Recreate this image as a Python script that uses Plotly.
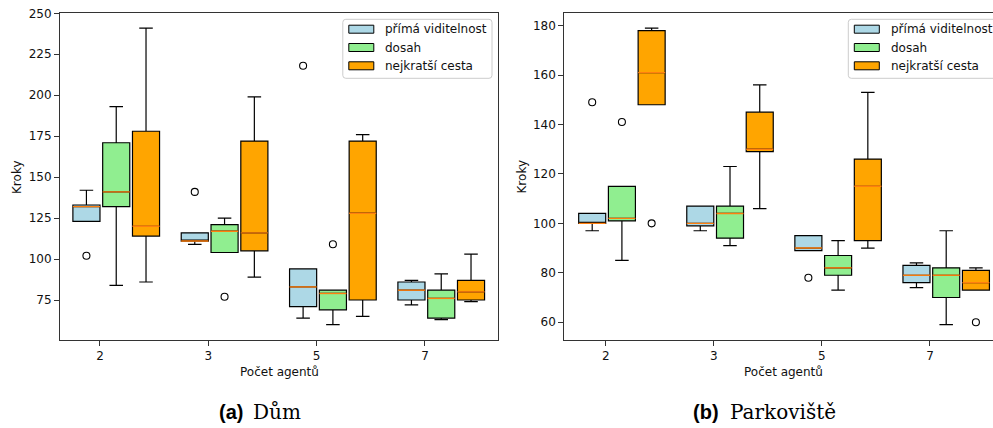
import plotly.graph_objects as go

W, H = 993, 428

# categories and series
groups = ["2", "3", "5", "7"]
series = ["přímá viditelnost", "dosah", "nejkratší cesta"]
fills = ["#add8e6", "#90ee90", "#ffa500"]
offsets = [-0.125, 0.15, 0.425]
box_width = 0.25

# (a) Dům: box statistics per series (rows) and agent count (columns)
dum_q1 = [[123, 111, 71, 75], [132, 104, 69, 64], [114, 105, 75, 75]]
dum_median = [[132, 111, 83, 81], [141, 117, 79, 76], [120, 116, 128, 80]]
dum_q3 = [[133, 116, 94, 86], [171, 121, 81, 81], [178, 172, 172, 87]]
dum_low = [[123, 109, 64, 72], [84, 104, 60, 63], [86, 89, 65, 74]]
dum_high = [[142, 116, 94, 87], [193, 125, 81, 91], [241, 199, 176, 103]]
dum_out_group = [[0, 1, 2], [1, 2], []]
dum_out_value = [[102, 141, 218], [77, 109], []]

# (b) Parkoviště
park_q1 = [[100, 99, 89, 76], [101, 94, 79, 70], [148, 129, 93, 73]]
park_median = [[100, 100, 90, 79], [102, 104, 82, 79], [161, 130, 115, 76]]
park_q3 = [[104, 107, 95, 83], [115, 107, 87, 82], [178, 145, 126, 81]]
park_low = [[97, 97, 89, 74], [85, 91, 73, 59], [148, 106, 90, 73]]
park_high = [[104, 107, 95, 84], [115, 123, 93, 97], [179, 156, 153, 82]]
park_out_group = [[0, 2], [0], [0, 3]]
park_out_value = [[149, 78], [141], [100, 60]]

FONT = "DejaVu Sans"
AXIS_COLOR = "#333333"
TEXT_COLOR = "#111111"


def px(x):
    return x / W


def py(y):
    return 1 - y / H


fig = go.Figure()


def add_panel(xa, ya, q1, med, q3, low, high, out_g, out_v):
    for s in range(len(series)):
        xs = [i + offsets[s] for i in range(len(groups))]
        fig.add_trace(go.Box(
            x=xs, q1=q1[s], median=med[s], q3=q3[s],
            lowerfence=low[s], upperfence=high[s],
            width=box_width, whiskerwidth=0.5, boxpoints=False,
            fillcolor=fills[s], line=dict(color="black", width=1.2),
            name=series[s], showlegend=False, hoverinfo="skip",
            xaxis=xa, yaxis=ya,
        ))
        # median drawn in orange over the box
        mx, my = [], []
        for x, m in zip(xs, med[s]):
            mx += [x - box_width / 2, x + box_width / 2, None]
            my += [m, m, None]
        fig.add_trace(go.Scatter(
            x=mx, y=my, mode="lines", line=dict(color="#ff7f0e", width=1.4),
            showlegend=False, hoverinfo="skip", xaxis=xa, yaxis=ya,
        ))
        if out_g[s]:
            fig.add_trace(go.Scatter(
                x=[g + offsets[s] for g in out_g[s]], y=out_v[s], mode="markers",
                marker=dict(symbol="circle-open", size=7, color="black",
                            line=dict(width=1.1)),
                showlegend=False, hoverinfo="skip", xaxis=xa, yaxis=ya,
            ))


add_panel("x", "y", dum_q1, dum_median, dum_q3, dum_low, dum_high,
          dum_out_group, dum_out_value)
add_panel("x2", "y2", park_q1, park_median, park_q3, park_low, park_high,
          park_out_group, park_out_value)

tickfont = dict(family=FONT, size=12, color=TEXT_COLOR)
common_x = dict(
    tickvals=list(range(len(groups))), ticktext=groups,
    showgrid=False, zeroline=False, showline=True, linecolor=AXIS_COLOR,
    linewidth=1, ticks="outside", ticklen=5, tickwidth=1, tickcolor=AXIS_COLOR,
    tickfont=tickfont, mirror=True,
)
common_y = dict(
    showgrid=False, zeroline=False, showline=True, linecolor=AXIS_COLOR,
    linewidth=1, ticks="outside", ticklen=5, tickwidth=1, tickcolor=AXIS_COLOR,
    tickfont=tickfont,
)

ydom = [py(340), py(13.3)]
fig.update_layout(
    width=W, height=H,
    margin=dict(l=0, r=0, t=0, b=0, autoexpand=False),
    paper_bgcolor="white", plot_bgcolor="white",
    boxmode="overlay", showlegend=False,
    xaxis=dict(domain=[px(60), px(498)], range=[-0.369, 3.674],
               anchor="y", **common_x),
    yaxis=dict(domain=ydom, range=[50.6, 250], dtick=25, tick0=0,
               anchor="x", mirror=True, **common_y),
    xaxis2=dict(domain=[px(564.3), 1.0], range=[-0.383, 3.583],
                anchor="y2", **common_x),
    yaxis2=dict(domain=ydom, range=[52.8, 185], dtick=20, tick0=0,
                anchor="x2", mirror=False, **common_y),
)

annotations = []
shapes = []

# axis titles
for xc, yl_x in [(279, 17), (783.5, 521.5)]:
    annotations.append(dict(
        x=px(xc), y=py(371.5), xref="paper", yref="paper", text="Počet agentů",
        showarrow=False, xanchor="center", yanchor="middle",
        font=dict(family=FONT, size=12, color=TEXT_COLOR),
    ))
    annotations.append(dict(
        x=px(yl_x), y=py(177), xref="paper", yref="paper", text="Kroky",
        showarrow=False, xanchor="center", yanchor="middle", textangle=-90,
        font=dict(family=FONT, size=12, color=TEXT_COLOR),
    ))

# captions
for tag, name, x_tag_end, x_name in [("(a)", "Dům", 245, 251),
                                      ("(b)", "Parkoviště", 721, 728)]:
    annotations.append(dict(
        x=px(x_tag_end), y=py(411.5), xref="paper", yref="paper",
        text="<b>" + tag + "</b>", showarrow=False, xanchor="right",
        yanchor="middle",
        font=dict(family="Liberation Sans", size=20, color="#000000"),
    ))
    annotations.append(dict(
        x=px(x_name), y=py(411.5), xref="paper", yref="paper", text=name,
        showarrow=False, xanchor="left", yanchor="middle",
        font=dict(family="DejaVu Serif", size=20, color="#000000"),
    ))


def rounded_path(x0, y0, x1, y1, r):
    pts = [
        ("M", x0 + r, y0), ("L", x1 - r, y0), ("Q", x1, y0, x1, y0 + r),
        ("L", x1, y1 - r), ("Q", x1, y1, x1 - r, y1), ("L", x0 + r, y1),
        ("Q", x0, y1, x0, y1 - r), ("L", x0, y0 + r), ("Q", x0, y0, x0 + r, y0),
    ]
    out = []
    for p in pts:
        cmd, coords = p[0], p[1:]
        xy = []
        for k in range(0, len(coords), 2):
            xy.append(f"{px(coords[k]):.5f},{py(coords[k + 1]):.5f}")
        out.append(cmd + " ".join(xy))
    return " ".join(out) + " Z"


# legends, one per panel
for fx in [342.8, 848.3]:
    shapes.append(dict(
        type="path", xref="paper", yref="paper",
        path=rounded_path(fx, 19.3, fx + 149.2, 78.3, 3),
        fillcolor="rgba(255,255,255,0.8)", line=dict(color="#cccccc", width=1),
        layer="above",
    ))
    for s, yc in enumerate([29.2, 47.5, 65.8]):
        shapes.append(dict(
            type="rect", xref="paper", yref="paper",
            x0=px(fx + 6), x1=px(fx + 31), y0=py(yc - 4), y1=py(yc + 4),
            fillcolor=fills[s], line=dict(color="black", width=1), layer="above",
        ))
        annotations.append(dict(
            x=px(fx + 40.5), y=py(yc), xref="paper", yref="paper",
            text=series[s], showarrow=False, xanchor="left", yanchor="middle",
            font=dict(family=FONT, size=12, color=TEXT_COLOR),
        ))

fig.update_layout(annotations=annotations, shapes=shapes)
fig.write_html("out.html")
